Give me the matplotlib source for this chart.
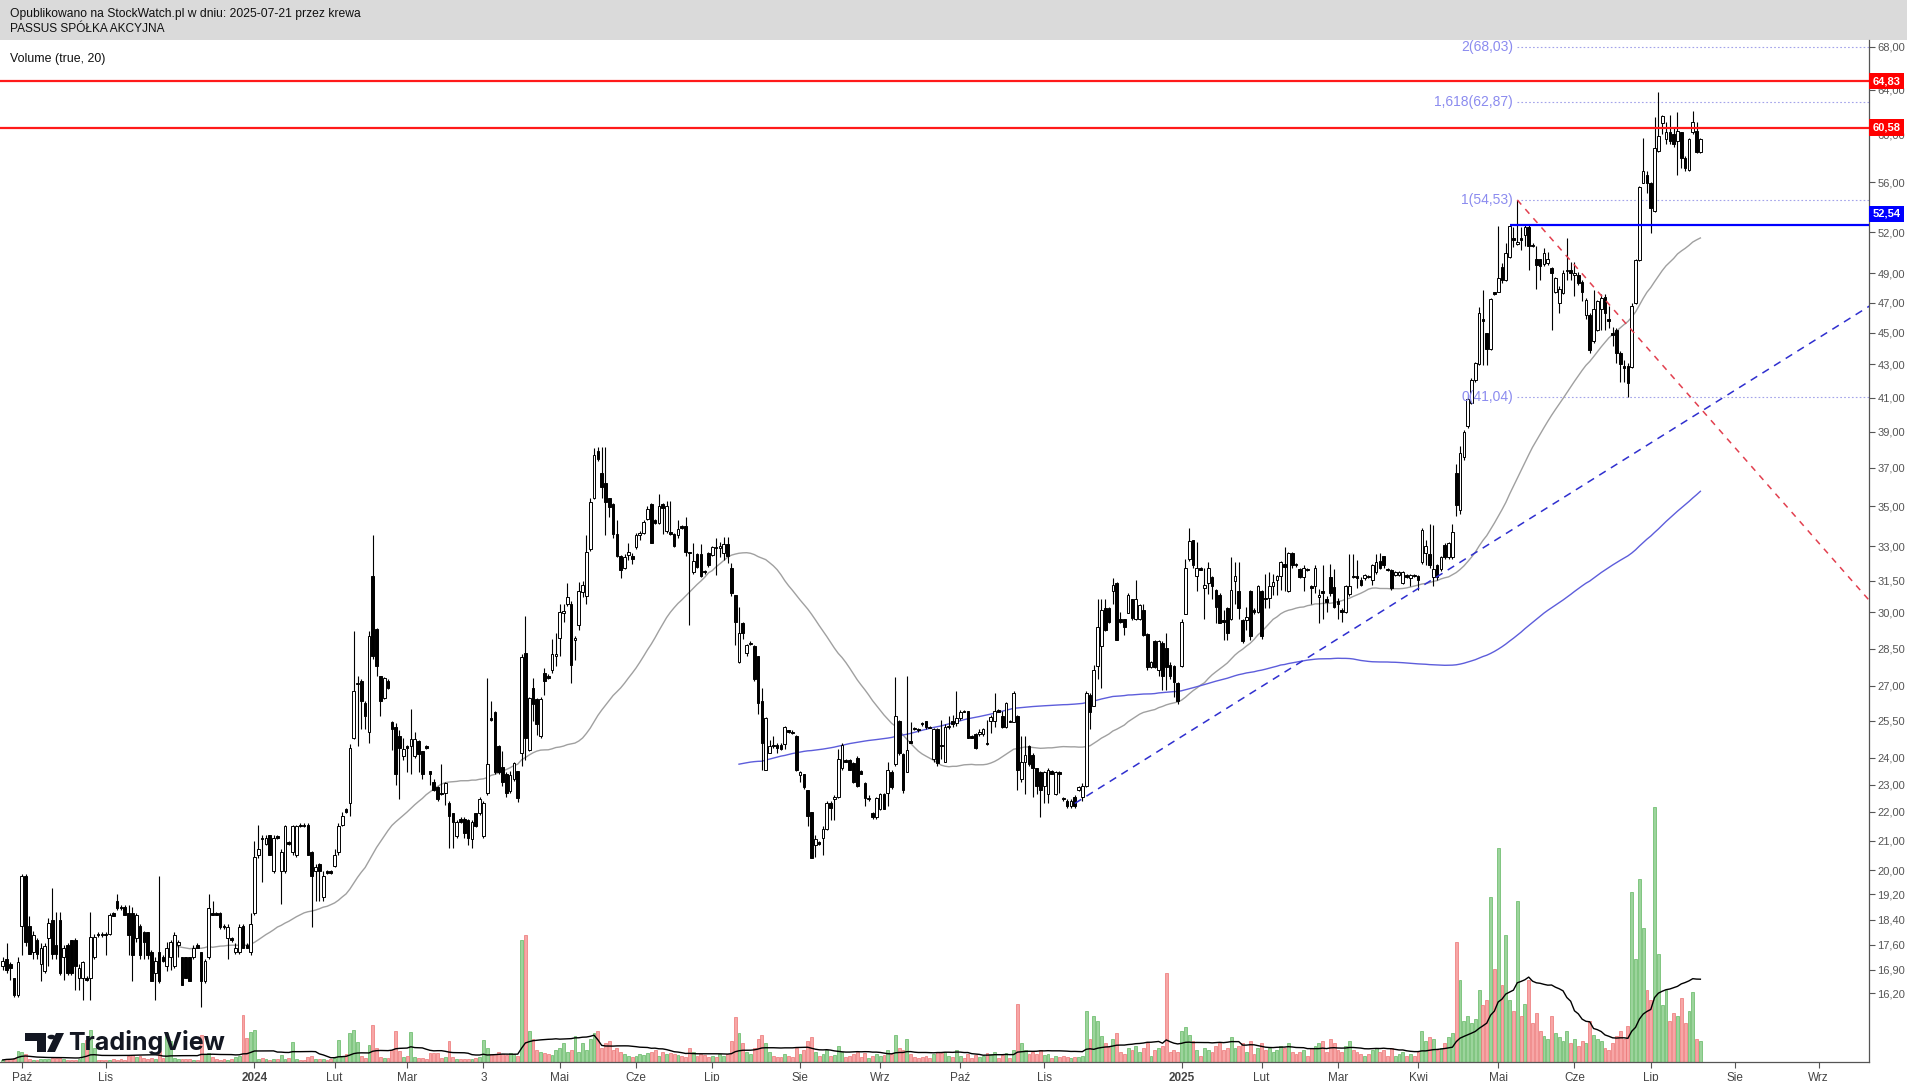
import numpy as np
import pandas as pd
import matplotlib.pyplot as plt
from matplotlib.patches import Rectangle, Polygon, Circle

plt.rcParams['font.family'] = ['Liberation Sans', 'DejaVu Sans']

# daily candles (open, high, low, close), oldest first
autumn_2023 = [
    (17.0, 17.25, 16.9, 17.15), (17.2, 17.65, 16.8, 16.9), (17.05, 17.1, 16.6, 16.95), (16.65, 16.65, 16.1, 16.15),
    (16.15, 17.25, 16.1, 17.1), (18.2, 19.85, 17.3, 19.8), (19.8, 19.85, 17.55, 17.7), (18.2, 18.5, 17.35, 17.35),
    (17.4, 18.05, 17.2, 17.9), (17.75, 17.8, 17.2, 17.35), (17.05, 17.65, 16.55, 17.5), (16.85, 17.65, 16.8, 17.55),
    (17.8, 18.45, 17.0, 18.3), (18.4, 19.4, 17.2, 17.35), (17.6, 18.65, 17.2, 17.35), (18.4, 18.65, 16.75, 16.8),
    (17.25, 17.6, 16.6, 17.5), (17.6, 17.65, 16.75, 16.8), (17.75, 17.75, 16.75, 16.8), (17.75, 17.8, 16.3, 17.0),
    (16.65, 17.05, 16.3, 16.95), (16.65, 17.15, 16.0, 17.1), (16.65, 16.7, 16.55, 16.6), (16.65, 18.65, 16.0, 17.85),
    (17.25, 17.95, 17.2, 17.85), (17.95, 18.0, 17.85, 17.9), (17.95, 18.0, 17.85, 17.9), (17.95, 18.0, 17.3, 17.9),
    (17.95, 18.6, 17.9, 18.55), (18.6, 18.65, 18.5, 18.5), (19.0, 19.2, 18.7, 18.75), (18.8, 18.85, 18.7, 18.75),
    (18.8, 18.85, 18.55, 18.55), (18.6, 18.85, 17.3, 17.9), (18.6, 18.8, 16.55, 17.3), (17.8, 18.6, 17.7, 18.55),
    (18.2, 18.25, 17.2, 17.3), (18.0, 18.05, 17.2, 17.7), (18.0, 18.0, 17.2, 17.3), (17.4, 17.45, 16.55, 16.55),
    (16.8, 17.25, 16.0, 17.15), (17.4, 19.8, 16.5, 16.55), (17.25, 17.3, 17.1, 17.15), (17.0, 17.7, 16.85, 17.5),
    (17.25, 17.75, 16.9, 17.7), (17.0, 18.0, 16.95, 17.9), (17.6, 17.75, 17.25, 17.7), (17.25, 17.25, 16.45, 16.45),
    (17.25, 17.25, 16.65, 16.65), (17.25, 17.25, 16.55, 16.55), (17.25, 17.6, 17.2, 17.5), (17.6, 17.65, 17.5, 17.5),
    (17.4, 17.4, 15.8, 16.55), (16.55, 17.2, 16.5, 17.15), (17.25, 19.2, 17.2, 18.75), (18.6, 19.0, 18.55, 18.55),
    (18.6, 18.65, 18.55, 18.55), (18.6, 18.65, 18.1, 18.15), (18.2, 18.25, 18.1, 18.15), (17.8, 18.25, 17.2, 18.15),
    (17.8, 17.85, 17.7, 17.75), (17.4, 17.65, 17.35, 17.5), (17.4, 18.25, 17.35, 18.15), (18.2, 18.25, 17.5, 17.5),
    (17.6, 17.65, 17.5, 17.5), (17.4, 18.6, 17.3, 18.25),
]
winter_2024 = [
    (18.6, 21.0, 18.55, 20.45), (20.5, 21.55, 20.4, 20.7), (21.1, 21.2, 19.6, 21.05), (20.9, 21.2, 20.85, 21.1),
    (21.2, 21.2, 20.5, 20.5), (19.95, 21.2, 19.9, 21.1), (21.15, 21.2, 21.05, 21.1), (19.95, 20.7, 18.9, 20.6),
    (19.95, 21.55, 19.9, 21.5), (20.95, 21.0, 20.85, 20.9), (20.6, 21.55, 20.5, 21.5), (20.5, 21.55, 20.45, 21.5),
    (21.55, 21.6, 21.45, 21.5), (21.55, 21.6, 21.45, 21.5), (21.55, 21.6, 20.5, 20.5), (20.6, 20.65, 18.15, 19.8),
    (19.95, 20.2, 19.0, 20.1), (20.2, 20.25, 19.0, 19.95), (19.1, 19.95, 19.0, 19.8), (19.95, 20.0, 19.85, 19.9),
    (19.95, 20.0, 19.85, 19.9), (20.15, 20.7, 20.1, 20.5), (20.6, 21.6, 20.5, 21.5), (21.55, 22.0, 21.5, 21.85),
    (22.1, 22.15, 21.95, 22.0), (22.3, 24.55, 21.85, 24.4), (24.8, 29.2, 24.75, 26.75), (27.05, 27.4, 24.45, 27.1),
    (27.2, 27.25, 25.15, 26.35), (26.25, 26.35, 25.15, 25.7), (25.05, 29.2, 24.6, 29.0), (31.7, 33.55, 28.1, 28.2),
    (29.3, 29.35, 27.4, 27.8), (27.4, 27.4, 25.7, 26.35), (26.45, 27.35, 26.4, 27.3), (27.2, 27.25, 26.85, 26.9),
    (25.45, 25.5, 24.3, 25.15), (25.25, 25.4, 23.0, 23.4), (24.85, 25.1, 22.45, 24.4), (24.05, 24.8, 23.9, 24.35),
]
spring_2024 = [
    (24.45, 24.5, 23.45, 24.4), (24.45, 26.0, 23.4, 24.75), (24.05, 25.05, 24.0, 24.75), (24.65, 24.7, 23.45, 24.15),
    (24.25, 24.25, 23.2, 23.4), (24.45, 24.5, 24.35, 24.4), (23.5, 23.5, 23.0, 23.4), (23.1, 23.2, 22.75, 22.8),
    (22.9, 22.95, 22.4, 22.45), (22.7, 23.75, 22.6, 22.65), (22.7, 23.1, 22.25, 23.05), (22.3, 22.4, 20.75, 21.85),
    (21.95, 21.95, 20.75, 21.65), (21.15, 21.7, 21.1, 21.65), (21.75, 21.8, 21.6, 21.65), (21.75, 21.8, 21.1, 21.25),
    (21.7, 21.75, 20.85, 21.1), (21.05, 21.7, 20.75, 21.65), (21.95, 21.95, 21.45, 21.5), (21.95, 22.55, 21.9, 22.45),
    (21.15, 22.4, 21.1, 22.3), (22.7, 27.3, 22.6, 23.75), (25.6, 26.35, 25.5, 25.55), (25.85, 25.9, 23.4, 23.45),
    (24.45, 24.5, 23.4, 23.45), (23.65, 24.25, 22.95, 23.1), (23.4, 23.45, 22.55, 22.7), (22.75, 23.5, 22.7, 23.35),
    (23.2, 23.85, 23.15, 23.8), (23.5, 23.5, 22.35, 22.5), (24.2, 28.3, 23.7, 28.15), (28.35, 29.85, 23.9, 24.8),
    (24.3, 26.5, 24.25, 26.45), (26.9, 27.3, 25.5, 26.2), (26.4, 26.45, 24.9, 25.35), (24.85, 26.5, 24.8, 26.4),
    (27.5, 27.7, 26.6, 27.2), (27.4, 27.45, 27.25, 27.3), (27.65, 28.9, 27.5, 28.3), (28.2, 29.15, 27.8, 28.3),
    (28.95, 30.4, 28.2, 30.0), (29.95, 30.4, 29.6, 30.05), (30.4, 31.4, 30.3, 30.7), (30.4, 30.5, 27.1, 27.85),
    (28.85, 29.0, 28.05, 28.95), (29.45, 31.45, 29.25, 31.0), (30.95, 31.5, 30.7, 31.3), (30.75, 33.55, 30.4, 32.75),
    (32.85, 35.4, 32.8, 35.2), (35.4, 38.1, 35.35, 37.7), (37.9, 38.15, 37.35, 37.45), (36.7, 38.15, 35.4, 36.0),
    (36.2, 38.15, 33.55, 35.2), (35.4, 35.4, 34.45, 34.95), (35.1, 35.15, 33.4, 33.6), (33.6, 34.3, 32.5, 32.55),
    (32.55, 32.6, 31.6, 31.95), (32.05, 32.65, 32.0, 32.5), (32.6, 33.15, 32.4, 32.75), (32.55, 32.7, 32.2, 32.45),
    (32.95, 33.65, 32.85, 33.55), (33.55, 33.75, 33.3, 33.65), (33.65, 34.3, 33.6, 34.2), (34.35, 35.0, 34.3, 34.85),
    (35.1, 35.15, 33.15, 33.15), (34.3, 34.35, 34.1, 34.15), (34.15, 35.6, 34.1, 35.0), (35.1, 35.15, 33.6, 34.9),
    (33.75, 35.25, 33.65, 35.0), (33.7, 35.25, 33.55, 33.6), (33.6, 33.65, 32.95, 33.0), (33.55, 34.3, 33.4, 33.85),
    (34.0, 34.05, 33.85, 33.9), (34.0, 34.45, 32.55, 32.75), (32.75, 32.75, 29.45, 32.7), (31.85, 33.15, 31.8, 32.35),
    (32.65, 32.7, 32.05, 32.1), (32.65, 33.1, 31.65, 31.7), (31.9, 31.95, 31.8, 31.85), (32.7, 32.75, 32.1, 32.15),
]
summer_autumn_2024 = [
    (32.6, 33.0, 32.55, 32.95), (32.95, 33.4, 31.75, 32.9), (32.9, 33.2, 32.5, 33.0), (32.7, 33.45, 32.4, 33.1),
    (33.1, 33.45, 32.25, 32.55), (32.05, 32.25, 30.75, 30.9), (30.8, 30.8, 28.65, 29.6), (27.95, 30.25, 27.9, 29.15),
    (29.55, 29.6, 28.9, 29.15), (28.35, 28.7, 28.2, 28.65), (28.7, 28.8, 28.65, 28.75), (28.6, 28.65, 27.2, 27.25),
    (28.2, 28.2, 25.8, 26.25), (26.35, 26.9, 23.55, 24.6), (23.55, 25.65, 23.55, 25.6), (24.2, 24.7, 24.2, 24.45),
    (24.5, 24.85, 24.4, 24.45), (24.5, 24.6, 24.2, 24.4), (24.5, 24.6, 24.3, 24.35), (24.55, 25.3, 24.35, 25.25),
    (25.1, 25.1, 25.0, 25.05), (25.05, 25.1, 24.95, 25.0), (24.85, 24.9, 23.5, 23.55), (23.35, 23.5, 23.1, 23.45),
    (23.4, 23.4, 22.85, 22.9), (22.8, 22.8, 21.5, 21.85), (22.0, 22.0, 20.4, 20.4), (20.85, 21.2, 20.45, 21.05),
    (20.95, 21.0, 20.85, 20.9), (21.1, 21.5, 20.5, 21.4), (21.4, 22.4, 21.35, 22.3), (22.3, 22.4, 21.7, 22.15),
    (22.45, 22.6, 21.7, 22.55), (22.55, 24.35, 22.5, 23.95), (23.6, 24.6, 23.55, 24.5), (23.9, 23.95, 23.85, 23.85),
    (23.9, 23.95, 23.55, 23.55), (23.8, 23.85, 23.05, 23.1), (24.0, 24.05, 22.9, 22.95), (23.5, 23.55, 23.4, 23.4),
    (23.05, 23.1, 22.2, 22.5), (22.45, 22.6, 22.4, 22.5), (21.95, 22.0, 21.75, 21.8), (21.8, 22.55, 21.75, 22.5),
    (22.1, 22.7, 22.05, 22.65), (22.65, 22.7, 22.1, 22.1), (22.7, 23.85, 22.2, 23.55), (23.45, 23.55, 22.85, 22.9),
    (23.75, 27.35, 23.7, 25.7), (25.5, 25.55, 24.1, 24.2), (24.15, 24.2, 22.7, 22.8), (23.45, 27.4, 23.45, 24.3),
    (24.65, 25.45, 24.6, 24.6), (25.2, 25.25, 25.1, 25.15), (25.15, 25.2, 25.05, 25.1), (25.4, 25.45, 25.3, 25.35),
    (25.5, 25.5, 25.15, 25.25), (25.25, 25.3, 25.2, 25.2), (23.95, 25.2, 23.85, 25.15), (25.15, 25.2, 23.7, 23.8),
    (24.5, 25.55, 23.95, 24.45), (23.85, 25.35, 23.85, 25.25), (25.25, 25.7, 25.15, 25.3), (25.5, 25.75, 25.25, 25.35),
    (25.4, 26.75, 25.3, 25.6), (25.6, 25.95, 25.55, 25.85), (25.9, 25.95, 25.85, 25.85), (25.9, 25.9, 24.8, 24.8),
    (24.85, 24.9, 24.8, 24.8), (24.95, 25.0, 24.35, 24.4), (24.95, 25.15, 24.85, 25.05), (24.95, 25.2, 24.85, 25.15),
    (24.6, 25.55, 24.5, 24.55), (25.5, 25.75, 25.0, 25.65), (25.5, 26.7, 25.25, 25.9), (25.95, 26.0, 25.85, 25.85),
    (25.7, 25.9, 25.2, 25.25), (25.25, 26.3, 25.2, 26.25), (25.5, 25.55, 25.45, 25.45), (25.45, 26.75, 25.45, 26.7),
    (25.7, 25.75, 22.8, 23.55), (23.2, 24.85, 23.1, 23.85), (23.85, 24.85, 22.65, 24.1), (24.45, 24.5, 23.7, 23.75),
    (24.1, 24.2, 22.55, 23.6), (23.6, 23.6, 22.65, 22.95), (23.45, 23.5, 21.8, 22.8), (22.95, 23.5, 22.3, 23.45),
    (22.65, 23.6, 22.3, 23.55), (23.5, 23.55, 23.4, 23.4), (22.65, 23.5, 22.6, 23.45), (23.45, 23.5, 22.7, 23.4),
    (22.5, 22.55, 22.4, 22.45), (22.4, 22.45, 22.15, 22.2), (22.2, 22.45, 22.15, 22.4), (22.55, 22.6, 22.15, 22.2),
    (22.8, 22.95, 22.75, 22.9), (22.55, 23.05, 22.4, 22.95),
]
winter_2025 = [
    (22.95, 26.75, 22.9, 26.7), (26.6, 26.7, 25.15, 25.85), (26.1, 27.85, 26.1, 27.65), (27.8, 30.6, 27.25, 29.4),
    (28.6, 30.6, 26.9, 30.1), (30.2, 30.6, 29.2, 29.25), (30.2, 30.25, 29.55, 29.6), (31.0, 31.6, 30.4, 31.3),
    (31.4, 31.45, 28.85, 28.85), (29.7, 30.0, 29.55, 29.6), (29.7, 29.7, 29.05, 29.4), (29.95, 30.9, 29.95, 30.8),
    (30.6, 30.6, 29.65, 29.75), (29.7, 31.55, 29.65, 30.6), (29.7, 30.4, 29.65, 30.35), (30.1, 30.4, 29.0, 29.05),
    (29.1, 29.15, 27.65, 27.75), (27.75, 28.0, 27.7, 27.95), (28.8, 28.85, 27.7, 27.75), (27.65, 28.85, 27.4, 28.8),
    (28.75, 28.8, 26.8, 27.4), (28.55, 29.15, 26.8, 27.75), (27.85, 27.95, 27.25, 27.4), (27.8, 27.85, 26.5, 27.15),
    (27.1, 27.15, 26.2, 26.35), (27.8, 29.7, 27.75, 29.6), (29.9, 32.45, 29.9, 32.05), (32.45, 33.9, 32.35, 33.25),
    (33.3, 33.3, 32.05, 32.15), (31.7, 33.2, 31.0, 32.05), (32.05, 32.1, 31.95, 31.95), (31.15, 32.05, 29.7, 31.3),
    (31.4, 32.3, 30.85, 32.05), (31.65, 31.7, 30.6, 31.25), (31.05, 31.1, 29.55, 30.25), (30.8, 30.9, 29.55, 29.55),
    (29.65, 30.1, 28.85, 29.6), (30.2, 30.25, 28.85, 29.15), (29.7, 32.5, 29.65, 31.05), (31.5, 32.3, 30.4, 31.7),
    (31.0, 32.3, 29.7, 30.2), (29.65, 29.7, 28.75, 28.8), (29.65, 30.25, 29.25, 29.8), (31.0, 31.05, 28.85, 29.0),
    (30.1, 30.2, 29.9, 30.0), (30.0, 31.3, 29.95, 31.25), (31.0, 31.05, 28.9, 29.0), (30.65, 31.8, 30.2, 30.6),
    (30.65, 31.85, 30.2, 31.25), (31.25, 31.8, 30.8, 31.45), (31.55, 31.75, 30.8, 31.7), (31.7, 32.35, 31.05, 32.3),
    (32.2, 32.95, 31.0, 32.1), (31.0, 32.75, 30.95, 32.7), (32.7, 32.75, 32.05, 32.15), (32.2, 32.25, 32.1, 32.15),
    (32.0, 32.05, 31.6, 31.65), (31.65, 32.15, 31.0, 32.05), (32.0, 32.05, 31.9, 31.95), (31.25, 31.3, 30.4, 31.15),
    (31.25, 32.15, 30.9, 32.05), (30.7, 31.1, 29.55, 30.8), (31.0, 32.15, 29.7, 30.9), (30.6, 30.75, 30.0, 30.45),
    (31.65, 32.2, 30.75, 30.9), (31.2, 32.0, 30.2, 30.25), (30.5, 30.65, 29.7, 30.4), (30.1, 30.2, 29.6, 30.0),
    (30.0, 31.3, 29.95, 31.25), (30.85, 32.65, 30.75, 31.25), (31.7, 32.65, 31.6, 31.65), (31.7, 32.4, 31.15, 31.6),
    (31.55, 31.65, 31.25, 31.3), (31.6, 31.8, 31.55, 31.75), (31.7, 31.75, 31.6, 31.65), (31.55, 32.2, 31.3, 32.15),
    (31.85, 32.65, 31.8, 32.3), (32.35, 32.7, 32.0, 32.05), (32.55, 32.55, 32.05, 32.15), (32.0, 32.05, 31.9, 31.95),
    (31.95, 32.0, 31.05, 31.15), (31.75, 31.9, 31.7, 31.85), (31.75, 31.9, 31.7, 31.85), (31.4, 31.9, 31.35, 31.85),
    (31.75, 31.8, 31.6, 31.65), (31.6, 31.8, 31.25, 31.75), (31.75, 31.8, 31.65, 31.7), (31.7, 31.75, 31.05, 31.55),
    (32.3, 33.9, 32.2, 33.8), (32.7, 33.3, 32.15, 33.0), (32.65, 34.1, 32.05, 32.15), (31.65, 34.05, 31.25, 32.0),
    (32.15, 32.2, 31.55, 31.65), (32.0, 32.55, 31.9, 32.5), (33.05, 33.15, 32.45, 32.5), (32.5, 33.2, 32.45, 33.15),
    (32.5, 34.1, 32.45, 33.7), (36.7, 37.2, 34.5, 35.05),
]
rally_2025 = [
    (34.8, 38.2, 34.6, 37.8), (37.6, 39.1, 37.4, 39.0), (39.3, 41.2, 39.2, 40.95), (40.7, 42.15, 40.6, 42.05),
    (42.05, 43.15, 41.95, 43.05), (43.0, 46.7, 42.95, 46.3), (45.9, 47.85, 42.95, 45.8), (44.95, 45.0, 42.95, 43.95),
    (43.95, 47.3, 43.9, 47.25), (47.7, 47.75, 47.5, 47.6), (47.75, 52.5, 47.7, 48.65), (49.45, 49.75, 48.3, 48.55),
    (48.55, 51.2, 48.45, 50.45), (50.2, 52.55, 50.1, 52.45), (51.55, 52.4, 50.9, 51.4), (51.15, 54.53, 51.05, 51.3),
    (51.55, 52.4, 50.7, 51.4), (51.8, 52.55, 50.95, 52.4), (52.4, 52.55, 49.2, 50.95), (51.05, 51.2, 50.9, 50.95),
    (50.0, 50.95, 47.9, 49.6), (50.0, 50.05, 48.55, 49.55), (49.65, 50.8, 49.5, 50.45), (49.7, 50.5, 49.6, 50.0),
    (49.4, 49.45, 45.2, 49.0), (47.75, 48.75, 47.65, 48.65), (47.0, 48.1, 46.3, 47.9), (47.65, 49.2, 47.55, 49.0),
    (49.15, 51.55, 48.55, 49.25), (49.2, 49.8, 48.55, 49.0), (48.9, 49.8, 47.45, 49.05), (48.9, 49.1, 48.2, 48.3),
    (48.4, 48.55, 47.1, 47.7), (46.2, 47.3, 45.9, 47.2), (46.2, 46.3, 43.7, 43.9), (44.45, 47.85, 44.35, 46.55),
    (45.15, 47.2, 45.1, 47.1), (46.55, 47.55, 45.2, 47.3), (47.4, 47.55, 45.2, 46.3), (45.9, 46.75, 45.3, 45.8),
    (45.0, 45.4, 44.15, 44.85), (45.2, 45.3, 43.05, 43.7), (43.7, 43.8, 41.95, 43.0), (42.9, 43.25, 41.95, 42.8),
    (42.9, 43.1, 41.04, 41.85), (42.85, 46.95, 42.75, 46.75), (46.95, 50.05, 46.9, 49.95), (49.95, 55.65, 49.85, 55.6),
    (55.95, 59.7, 55.9, 56.9), (56.6, 56.9, 55.1, 55.9), (55.95, 56.0, 51.9, 53.9), (53.65, 61.55, 53.55, 58.85),
    (58.55, 63.8, 58.45, 59.85), (61.0, 61.7, 60.0, 61.6), (59.55, 61.1, 59.15, 60.15), (60.15, 61.7, 59.15, 59.4),
    (60.0, 60.55, 58.9, 59.15), (59.4, 61.95, 56.6, 60.25), (60.15, 60.15, 57.15, 58.0), (58.0, 58.1, 56.9, 57.15),
    (56.95, 59.7, 56.9, 59.6), (60.15, 62.1, 60.0, 61.05), (60.25, 61.05, 58.4, 58.45), (58.45, 59.7, 58.4, 59.6),
]

# session volume, thousands of shares
volume_2023 = [
    2, 3, 3, 4, 11, 10, 8, 3, 2, 2, 3, 3, 3, 4, 4, 4, 3, 2, 2, 2,
    3, 18, 21, 31, 14, 2, 2, 2, 2, 3, 2, 3, 2, 6, 7, 5, 6, 4, 3, 4,
    3, 11, 4, 28, 20, 4, 3, 3, 3, 3, 2, 2, 26, 8, 9, 5, 3, 2, 3, 2,
    3, 5, 6, 46, 23, 29,
]
volume_2024 = [
    31, 3, 4, 3, 2, 3, 3, 7, 3, 4, 19, 3, 2, 2, 5, 6, 3, 3, 3, 2,
    3, 4, 21, 6, 8, 28, 31, 19, 6, 4, 17, 36, 14, 5, 4, 4, 12, 30, 11, 5,
    6, 29, 5, 4, 4, 3, 9, 9, 9, 4, 5, 20, 5, 3, 3, 3, 3, 3, 4, 5,
    21, 14, 8, 8, 10, 8, 7, 9, 8, 6, 119, 123, 30, 22, 12, 10, 9, 8, 7, 12,
    14, 18, 10, 12, 25, 10, 18, 12, 22, 28, 30, 14, 18, 20, 12, 14, 10, 8, 6, 5,
    6, 8, 7, 9, 10, 12, 6, 10, 8, 9, 8, 7, 6, 5, 14, 10, 6, 8, 7, 5,
    6, 5, 8, 6, 8, 20, 44, 28, 18, 10, 8, 14, 22, 26, 18, 10, 6, 5, 5, 8,
    6, 5, 14, 8, 12, 20, 24, 10, 6, 8, 12, 6, 7, 16, 10, 5, 6, 8, 10, 5,
    9, 4, 6, 8, 6, 7, 12, 8, 26, 14, 12, 22, 8, 5, 4, 5, 6, 4, 8, 10,
    9, 10, 6, 5, 12, 6, 4, 8, 4, 7, 5, 6, 9, 8, 10, 4, 7, 9, 4, 12,
    56, 18, 12, 8, 10, 8, 12, 7, 8, 4, 6, 5, 6, 5, 4, 5, 5, 6,
]
volume_2025 = [
    50, 22, 45, 40, 25, 18, 15, 22, 28, 10, 8, 14, 12, 16, 10, 14, 18, 6, 12, 14,
    16, 86, 10, 12, 10, 30, 34, 26, 20, 12, 6, 14, 12, 10, 16, 18, 12, 14, 24, 14,
    16, 18, 10, 20, 8, 14, 18, 12, 14, 10, 12, 16, 14, 18, 10, 8, 10, 12, 6, 14,
    16, 18, 20, 10, 22, 18, 12, 10, 16, 20, 12, 10, 8, 6, 8, 12, 14, 10, 12, 6,
    14, 6, 8, 10, 6, 8, 6, 10, 30, 20, 24, 22, 12, 14, 18, 24, 28, 117, 80, 40,
    45, 38, 42, 70, 55, 60, 160, 90, 208, 75, 123, 60, 50, 156, 45, 56, 80, 38, 48, 30,
    25, 22, 45, 28, 24, 20, 30, 18, 22, 16, 20, 18, 40, 26, 22, 20, 14, 12, 18, 25,
    30, 22, 35, 165, 100, 178, 130, 70, 60, 248, 105, 55, 70, 40, 48, 45, 62, 38, 50, 68,
    22, 20,
]

month_labels = ['Paź', 'Lis', '2024', 'Lut', 'Mar', '3', 'Maj', 'Cze', 'Lip', 'Sie', 'Wrz', 'Paź', 'Lis',
                '2025', 'Lut', 'Mar', 'Kwi', 'Maj', 'Cze', 'Lip', 'Sie', 'Wrz']
month_session = [5, 27, 66, 87, 106, 126, 146, 166, 186, 209, 230, 251, 273, 309, 330, 350, 371, 392, 412, 432, 454, 476]

price_ticks = [16.2, 16.9, 17.6, 18.4, 19.2, 20, 21, 22, 23, 24, 25.5, 27, 28.5, 30, 31.5, 33, 35, 37, 39,
               41, 43, 45, 47, 49, 52, 56, 60, 64, 68]

red_levels = [64.83, 60.58]
blue_level = 52.54
fib_levels = [68.03, 62.87, 54.53, 41.04]
fib_labels = ['2(68,03)', '1,618(62,87)', '1(54,53)', '0(41,04)']
down_trend = ([397, 489.5], [54.53, 30.5])
up_trend = ([281, 489.5], [22.3, 46.8])

# price axis calibration (price, pixel row) as drawn by the source chart
axis_prices = [14.32, 16.2, 16.9, 17.6, 18.4, 19.2, 20, 21, 22, 23, 24, 25.5, 27, 28.5, 30, 31.5, 33, 35,
               37, 39, 41, 43, 45, 47, 49, 52.54, 56, 60.58, 64.83, 68, 68.69]
axis_rows = [1062, 993.3, 969.7, 944.7, 919.7, 894.3, 870, 840.7, 811.7, 784.7, 757.7, 720.7, 685.7, 649,
             612, 580.7, 546, 506, 467.7, 431.7, 397.7, 364.3, 332.7, 302.7, 273.3, 225, 182, 127.5, 81, 47, 40]

candles = autumn_2023 + winter_2024 + spring_2024 + summer_autumn_2024 + winter_2025 + rally_2025
df = pd.DataFrame(candles, columns=['open', 'high', 'low', 'close'])
volume = volume_2023 + volume_2024 + volume_2025
n = len(df)
x = np.arange(n)

LOGP = np.log(axis_prices)
ROWS = -np.array(axis_rows, dtype=float)


def fwd(v):
    v = np.clip(np.asarray(v, dtype=float), 1e-6, None)
    return np.interp(np.log(v), LOGP, ROWS)


def inv(u):
    return np.exp(np.interp(np.asarray(u, dtype=float), ROWS, LOGP))


W, H = 1908, 1081
fig = plt.figure(figsize=(W / 100, H / 100), dpi=100)
fig.patch.set_facecolor('white')
rect = [0, (H - 1062) / H, 1869 / W, (1062 - 40) / H]
vax = fig.add_axes(rect, zorder=0)
ax = fig.add_axes(rect, zorder=1)
ax.patch.set_alpha(0)

xlim = (-0.71, 489.2)

# volume overlay
vax.set_xlim(xlim)
for s in vax.spines.values():
    s.set_visible(False)
vax.set_xticks([])
vax.set_yticks([])
up = (df['close'] >= df['open']).values
m = min(len(volume), n)
vol = np.array(volume[:m], dtype=float)
xv = x[:m]
upv = up[:m]
vax.bar(xv[upv], vol[upv], width=0.75, color='#9cd49c', edgecolor='#62b862', linewidth=0.5)
vax.bar(xv[~upv], vol[~upv], width=0.75, color='#f7a6a6', edgecolor='#ec7474', linewidth=0.5)
vax.plot(xv, pd.Series(vol).rolling(20, min_periods=1).mean(), color='black', lw=1.0)
vax.set_ylim(0, vol.max() * 1021 / 255)

# price pane
ax.set_yscale('function', functions=(fwd, inv))
ax.set_ylim(14.32, 68.69)
ax.set_xlim(xlim)

sma50 = df['close'].rolling(50, min_periods=45).mean()
sma200 = df['close'].rolling(200, min_periods=194).mean()
ax.plot(x, sma50, color='#a0a0a0', lw=1.0, zorder=2)
ax.plot(x, sma200, color='#5d5ddb', lw=1.0, zorder=2)

lo_body = np.minimum(df['open'], df['close']).values
hi_body = np.maximum(df['open'], df['close']).values
ax.vlines(x, df['low'], df['high'], color='black', lw=0.8, zorder=3)
ax.bar(x[up], (hi_body - lo_body)[up], bottom=lo_body[up], width=0.7, color='white',
       edgecolor='black', linewidth=0.7, zorder=4)
ax.bar(x[~up], (hi_body - lo_body)[~up], bottom=lo_body[~up], width=0.7, color='black',
       edgecolor='black', linewidth=0.7, zorder=4)

for lv in red_levels:
    ax.axhline(lv, color='#ff1a1a', lw=1.6, zorder=5)
ax.hlines(blue_level, 395, xlim[1], color='#0000ff', lw=1.6, zorder=5)

for lv, lb in zip(fib_levels, fib_labels):
    ax.hlines(lv, 397, xlim[1], colors='#a3a3ea', lw=0.8, linestyles=(0, (1.5, 2)), zorder=1)
    ax.annotate(lb, (397, lv), xytext=(-3, 0), textcoords='offset points', ha='right', va='center',
                color='#8b8bef', fontsize=10, zorder=6)

ax.plot(*down_trend, color='#e2404f', lw=1.1, ls=(0, (4, 4)), zorder=5)
ax.plot(*up_trend, color='#2f2fcf', lw=1.1, ls=(0, (5, 4)), zorder=5)

# axes styling
for side in ['left', 'top']:
    ax.spines[side].set_visible(False)
for side in ['right', 'bottom']:
    ax.spines[side].set_color('#555555')
    ax.spines[side].set_linewidth(0.9)
ax.yaxis.tick_right()
ax.set_yticks(price_ticks)
ax.set_yticklabels([f'{t:.2f}'.replace('.', ',') for t in price_ticks])
ax.yaxis.set_minor_locator(plt.NullLocator())
ax.tick_params(axis='y', which='both', direction='out', length=4, width=0.8, color='#555555',
               labelsize=8, labelcolor='#555555', pad=2)
ax.set_xticks(month_session)
ax.set_xticklabels(month_labels)
ax.tick_params(axis='x', direction='out', length=4, width=0.8, color='#555555', labelsize=8.5,
               labelcolor='#444444', pad=3)
for t in ax.get_xticklabels():
    if t.get_text() in ('2024', '2025'):
        t.set_fontweight('bold')

# price tags on the scale
for lv in red_levels:
    ax.annotate(f'{lv:.2f}'.replace('.', ','), xy=(1, lv), xycoords=('axes fraction', 'data'),
                xytext=(2.5, 0), textcoords='offset points', ha='left', va='center', color='white',
                fontsize=8, fontweight='bold', annotation_clip=False, zorder=10,
                bbox=dict(boxstyle='square,pad=0.3', fc='#ff0000', ec='none'))
ax.annotate(f'{blue_level:.2f}'.replace('.', ','), xy=(1, blue_level), xycoords=('axes fraction', 'data'),
            xytext=(2.5, 8), textcoords='offset points', ha='left', va='center', color='white',
            fontsize=8, fontweight='bold', annotation_clip=False, zorder=10,
            bbox=dict(boxstyle='square,pad=0.3', fc='#0000ff', ec='none'))

# header strip
fig.patches.append(Rectangle((0, 1 - 40 / H), 1, 40 / H, transform=fig.transFigure,
                             facecolor='#dadada', edgecolor='none', zorder=0))
fig.text(10 / W, 1 - 17 / H, 'Opublikowano na StockWatch.pl w dniu: 2025-07-21 przez krewa',
         fontsize=8.7, color='#111111', va='baseline')
fig.text(10 / W, 1 - 31.5 / H, 'PASSUS SPÓŁKA AKCYJNA', fontsize=8.6, color='#111111', va='baseline')
fig.text(10 / W, 1 - 62 / H, 'Volume (true, 20)', fontsize=8.9, color='#111111', va='baseline')


# TradingView watermark
def fp(px, py):
    return (px / W, 1 - py / H)


logo_col = '#131722'
fig.patches.append(Polygon([fp(25, 1033), fp(46, 1033), fp(46, 1052), fp(37, 1052), fp(37, 1041),
                            fp(25, 1041)], closed=True, transform=fig.transFigure, fc=logo_col, ec='none'))
fig.patches.append(Circle(fp(51.5, 1037), 4 / W, transform=fig.transFigure, fc=logo_col, ec='none'))
fig.patches.append(Polygon([fp(56, 1033), fp(64, 1033), fp(55, 1052), fp(47, 1052)], closed=True,
                           transform=fig.transFigure, fc=logo_col, ec='none'))
fig.text(68 / W, 1 - 1050 / H, 'TradingView', fontsize=18, fontweight='bold', color=logo_col,
         va='baseline', family=['Inter', 'DejaVu Sans'])

fig.savefig('out.png', dpi=100, facecolor='white')
